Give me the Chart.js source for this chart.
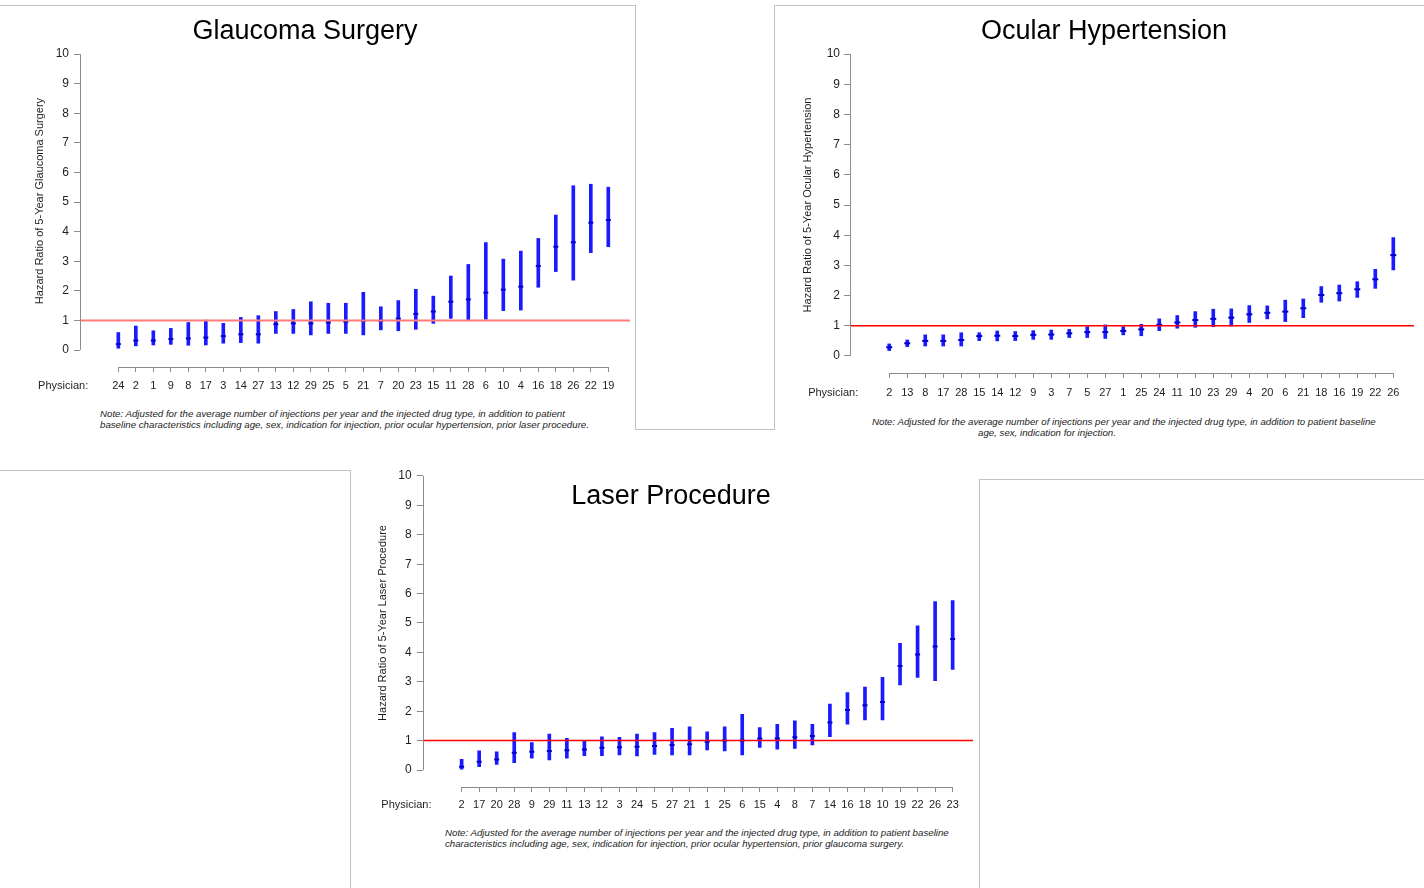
<!DOCTYPE html>
<html>
<head>
<meta charset="utf-8">
<script src="https://cdn.jsdelivr.net/npm/chart.js@4.4.1/dist/chart.umd.min.js"></script>
<style>
  html, body { margin: 0; padding: 0; background: #ffffff; }
  body { width: 1424px; height: 888px; position: relative; overflow: hidden;
         font-family: "Liberation Sans", Arial, Helvetica, sans-serif; }
  canvas { position: absolute; }
  .fr { position: absolute; background: #c3c3c3; }
  .ttl { position: absolute; font-size: 27px; line-height: 27px; color: #000;
         white-space: nowrap; transform: translateX(-50%); }
  .note { position: absolute; font-style: italic; font-size: 9.7px; line-height: 11px;
          color: #222; white-space: nowrap; }
</style>
</head>
<body>
<canvas id="gsChart" width="640" height="400" style="left:0px;top:0px;width:640px;height:400px"></canvas>
<canvas id="ohChart" width="654" height="410" style="left:770px;top:0px;width:654px;height:410px"></canvas>
<canvas id="lpChart" width="640" height="380" style="left:340px;top:440px;width:640px;height:380px"></canvas>

<!-- slide frames -->
<div class="fr" style="left:0px;top:5px;width:636px;height:1px"></div>
<div class="fr" style="left:635px;top:5px;width:1px;height:424px"></div>
<div class="fr" style="left:635px;top:429px;width:140px;height:1px"></div>
<div class="fr" style="left:774px;top:5px;width:1px;height:425px"></div>
<div class="fr" style="left:774px;top:5px;width:650px;height:1px"></div>
<div class="fr" style="left:0px;top:470px;width:351px;height:1px"></div>
<div class="fr" style="left:350px;top:470px;width:1px;height:418px"></div>
<div class="fr" style="left:979px;top:479px;width:445px;height:1px"></div>
<div class="fr" style="left:979px;top:479px;width:1px;height:409px"></div>

<div class="ttl" style="left:305px;top:17px">Glaucoma Surgery</div>
<div class="ttl" style="left:1104px;top:17px">Ocular Hypertension</div>
<div class="ttl" style="left:671px;top:482px">Laser Procedure</div>

<div class="note" style="left:100px;top:408px">Note: Adjusted for the average number of injections per year and the injected drug type, in addition to patient<br>baseline characteristics including age, sex, indication for injection, prior ocular hypertension, prior laser procedure.</div>
<div class="note" style="left:872px;top:416px">Note: Adjusted for the average number of injections per year and the injected drug type, in addition to patient baseline</div>
<div class="note" style="left:978px;top:427px">age, sex, indication for injection.</div>
<div class="note" style="left:445px;top:827px">Note: Adjusted for the average number of injections per year and the injected drug type, in addition to patient baseline<br>characteristics including age, sex, indication for injection, prior ocular hypertension, prior glaucoma surgery.</div>

<script>
// ---------------- DATA ----------------
const yTickValues = [0, 1, 2, 3, 4, 5, 6, 7, 8, 9, 10];
const referenceHR = 1;

// Glaucoma Surgery
const gsPhysician = ['24','2','1','9','8','17','3','14','27','13','12','29','25','5','21','7','20','23','15','11','28','6','10','4','16','18','26','22','19'];
const gsHR    = [0.20,0.32,0.32,0.37,0.39,0.42,0.47,0.53,0.53,0.87,0.90,0.90,0.93,0.96,0.99,0.99,1.06,1.22,1.30,1.63,1.71,1.94,2.04,2.14,2.84,3.49,3.64,4.30,4.39];
const gsLower = [0.06,0.14,0.17,0.19,0.16,0.17,0.23,0.25,0.23,0.56,0.56,0.51,0.56,0.56,0.51,0.68,0.65,0.70,0.90,1.07,0.99,1.04,1.33,1.35,2.12,2.65,2.36,3.29,3.49];
const gsUpper = [0.59,0.81,0.65,0.73,0.93,1.01,0.90,1.10,1.16,1.30,1.37,1.63,1.58,1.58,1.95,1.46,1.67,2.05,1.82,2.50,2.89,3.63,3.07,3.34,3.77,4.56,5.55,5.60,5.50];

// Ocular Hypertension
const ohPhysician = ['2','13','8','17','28','15','14','12','9','3','7','5','27','1','25','24','11','10','23','29','4','20','6','21','18','16','19','22','26'];
const ohHR    = [0.29,0.42,0.50,0.50,0.53,0.66,0.67,0.66,0.70,0.71,0.75,0.79,0.79,0.83,0.88,1.03,1.11,1.19,1.23,1.27,1.38,1.43,1.47,1.58,2.02,2.08,2.21,2.54,3.34];
const ohLower = [0.18,0.31,0.33,0.33,0.33,0.51,0.50,0.51,0.55,0.55,0.61,0.61,0.58,0.70,0.67,0.84,0.92,0.95,0.97,0.99,1.11,1.23,1.14,1.27,1.78,1.82,1.94,2.24,2.85];
const ohUpper = [0.40,0.53,0.70,0.70,0.77,0.77,0.83,0.81,0.84,0.86,0.88,0.97,1.03,0.97,1.05,1.23,1.34,1.47,1.55,1.56,1.67,1.66,1.85,1.89,2.30,2.35,2.46,2.87,3.92];

// Laser Procedure
const lpPhysician = ['2','17','20','28','9','29','11','13','12','3','24','5','27','21','1','25','6','15','4','8','7','14','16','18','10','19','22','26','23'];
const lpHR    = [0.11,0.28,0.36,0.59,0.62,0.65,0.67,0.70,0.76,0.77,0.79,0.82,0.85,0.88,0.96,1.00,1.00,1.07,1.07,1.11,1.16,1.62,2.04,2.20,2.31,3.54,3.93,4.20,4.46];
const lpLower = [0.03,0.11,0.19,0.25,0.40,0.34,0.40,0.49,0.49,0.51,0.48,0.53,0.51,0.51,0.68,0.65,0.51,0.77,0.71,0.73,0.85,1.13,1.56,1.70,1.70,2.89,3.15,3.04,3.42];
const lpUpper = [0.36,0.65,0.62,1.27,0.93,1.22,1.08,1.00,1.13,1.11,1.22,1.27,1.42,1.47,1.30,1.47,1.89,1.44,1.55,1.67,1.55,2.24,2.63,2.82,3.15,4.31,4.90,5.73,5.76];

// ---------------- STYLE ----------------
const FONT = '"Liberation Sans", Arial, Helvetica, sans-serif';
const BAR_BLUE = '#1a1aff';
const MARK_BLUE = '#0000c8';
const AXIS_GRAY = '#8c8c8c';
const TEXT = '#1e1e1e';

const axisDecor = {
  id: 'axisDecor',
  afterDatasetsDraw(chart, args, opts) {
    const { ctx, chartArea, scales } = chart;
    const yp = scales.y.getPixelForValue(referenceHR);
    ctx.save();
    ctx.strokeStyle = opts.refColor;
    ctx.lineWidth = opts.refWidth;
    ctx.beginPath();
    ctx.moveTo(chartArea.left, yp);
    ctx.lineTo(chartArea.right, yp);
    ctx.stroke();
    ctx.restore();
  },
  afterDraw(chart, args, opts) {
    const { ctx, chartArea, scales } = chart;
    const x = scales.x, y = scales.y;
    ctx.save();
    ctx.strokeStyle = AXIS_GRAY;
    ctx.lineWidth = 1;
    const ax = Math.round(chartArea.left) + 0.5;
    ctx.beginPath();
    ctx.moveTo(ax, y.getPixelForValue(yTickValues[0]));
    ctx.lineTo(ax, y.getPixelForValue(yTickValues[yTickValues.length - 1]));
    ctx.stroke();
    const ay = Math.round(chartArea.bottom) + 0.5;
    ctx.beginPath();
    ctx.moveTo(x.getPixelForValue(0), ay);
    ctx.lineTo(x.getPixelForValue(opts.count - 1), ay);
    ctx.stroke();
    ctx.fillStyle = TEXT;
    ctx.font = '11px ' + FONT;
    ctx.textAlign = 'right';
    ctx.textBaseline = 'middle';
    ctx.fillText('Physician:', x.getPixelForValue(-1.72), chartArea.bottom + 5 + opts.xPad + 6.6);
    ctx.restore();
  }
};

function buildChart(id, physicians, hr, lower, upper, yTitle, geo) {
  return new Chart(document.getElementById(id), {
    type: 'bar',
    data: {
      datasets: [
        {
          type: 'line',
          label: 'Hazard ratio',
          data: physicians.map((p, i) => ({ x: i, y: hr[i] })),
          showLine: false,
          pointStyle: 'line',
          pointRadius: geo.markR,
          pointHoverRadius: geo.markR,
          pointBorderWidth: 2,
          borderColor: MARK_BLUE,
          backgroundColor: MARK_BLUE,
          order: 1
        },
        {
          type: 'bar',
          label: '95% CI',
          data: physicians.map((p, i) => ({ x: i, y: [lower[i], upper[i]] })),
          backgroundColor: BAR_BLUE,
          borderWidth: 0,
          barThickness: geo.barW,
          grouped: false,
          order: 2
        }
      ]
    },
    options: {
      responsive: false,
      animation: false,
      devicePixelRatio: 1,
      layout: { padding: { left: 0, right: geo.padR, top: geo.padT, bottom: 0 } },
      plugins: {
        legend: { display: false },
        tooltip: { enabled: false },
        title: { display: false },
        axisDecor: { refColor: geo.refColor, refWidth: geo.refWidth, count: physicians.length, xPad: geo.xPad }
      },
      scales: {
        x: {
          type: 'linear',
          min: geo.xMin, max: geo.xMax,
          offset: false,
          grid: { offset: false, drawOnChartArea: false, drawTicks: true, tickLength: 5, color: AXIS_GRAY, lineWidth: 1 },
          border: { display: false },
          ticks: {
            autoSkip: false, maxRotation: 0, minRotation: 0, padding: geo.xPad,
            color: TEXT, font: { family: FONT, size: 11 },
            callback: (v) => (physicians[v] !== undefined ? physicians[v] : '')
          },
          afterBuildTicks: (s) => { s.ticks = physicians.map((p, i) => ({ value: i })); },
          afterFit: (s) => { s.height = geo.xH; }
        },
        y: {
          type: 'linear',
          min: geo.yMin, max: geo.yMax,
          grid: { drawOnChartArea: false, drawTicks: true, tickLength: 6, color: AXIS_GRAY, lineWidth: 1 },
          border: { display: false },
          ticks: { padding: geo.yPad, color: TEXT, font: { family: FONT, size: 12 } },
          afterBuildTicks: (s) => { s.ticks = yTickValues.map(v => ({ value: v })); },
          afterFit: (s) => { s.width = geo.yW; },
          title: {
            display: true, text: yTitle, color: TEXT,
            font: { family: FONT, size: 11 },
            padding: { top: geo.yTitlePad, bottom: 0 }
          }
        }
      }
    },
    plugins: [axisDecor]
  });
}

Chart.defaults.font.family = FONT;

buildChart('gsChart', gsPhysician, gsHR, gsLower, gsUpper, 'Hazard Ratio of 5-Year Glaucoma Surgery', {
  padR: 10, padT: 35, xH: 33, yW: 80, yTitlePad: 33.4, xPad: 7, yPad: 5,
  xMin: -2.19, xMax: 29.24, yMin: -0.574, yMax: 10.642,
  refColor: '#ff7a7a', refWidth: 2, barW: 3, markR: 2.5
});
buildChart('ohChart', ohPhysician, ohHR, ohLower, ohUpper, 'Hazard Ratio of 5-Year Ocular Hypertension', {
  padR: 10, padT: 37, xH: 37, yW: 80, yTitlePad: 31.4, xPad: 8, yPad: 4,
  xMin: -2.18, xMax: 29.15, yMin: -0.563, yMax: 10.563,
  refColor: '#ff0000', refWidth: 1.5, barW: 3, markR: 3
});
buildChart('lpChart', lpPhysician, lpHR, lpLower, lpUpper, 'Hazard Ratio of 5-Year Laser Procedure', {
  padR: 7, padT: 19, xH: 33, yW: 82.7, yTitlePad: 36.4, xPad: 6.4, yPad: 5,
  xMin: -2.22, xMax: 29.16, yMin: -0.578, yMax: 10.578,
  refColor: '#ff0000', refWidth: 1.5, barW: 3, markR: 2.5
});
</script>
</body>
</html>
